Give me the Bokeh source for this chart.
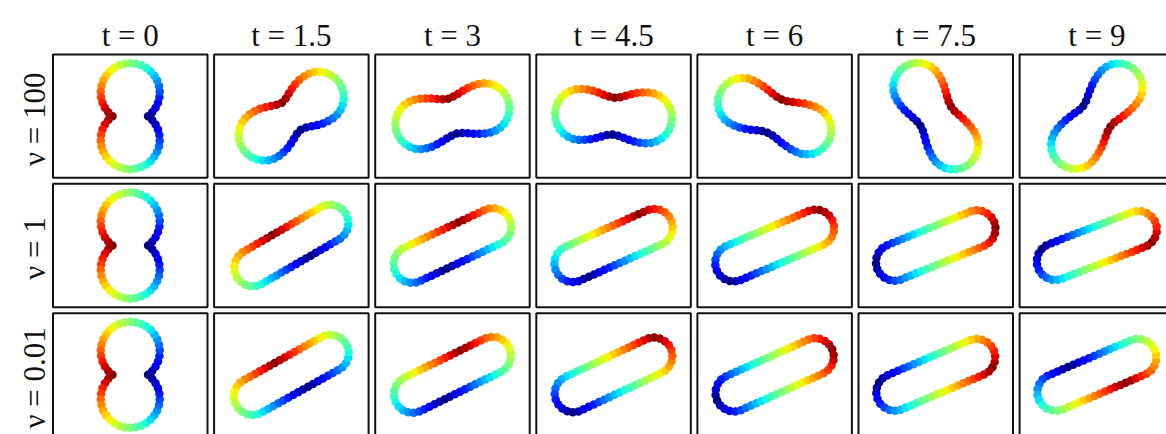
import numpy as np
from bokeh.plotting import figure
from bokeh.models import Range1d, ColumnDataSource
from bokeh.embed import file_html
from bokeh.resources import INLINE
from bokeh.core.properties import value

# ---------------------------------------------------------------- data
times = [0, 1.5, 3, 4.5, 6, 7.5, 9]
col_labels = ["t = 0", "t = 1.5", "t = 3", "t = 4.5", "t = 6", "t = 7.5", "t = 9"]
row_labels = ["ν = 100", "ν = 1", "ν = 0.01"]

# orientation of the long axis (degrees, counter-clockwise from the flow)
angle_nu100 = [90, 35, 14, -3, -23, -58, -127]
angle_nu1 = [90, 30, 25, 24, 23, 22, 21]
angle_nu001 = [90, 29, 26, 25, 24, 23, 23]

# distance of each lobe centre from the middle of the vesicle
lobe_offset_nu100 = [23.5, 33, 33, 33, 35, 34, 36]
lobe_offset_nu1 = [23.5, 44.5, 44.5, 44.5, 44.5, 44.5, 44.5]
lobe_offset_nu001 = [23.5, 44.5, 44.5, 44.5, 44.5, 44.5, 44.5]

# lobe radius
lobe_radius_nu100 = [29.5, 25.5, 25, 25.5, 24.5, 24.5, 24]
lobe_radius_nu1 = [29.5, 18.5, 18.5, 18.5, 18.5, 18.5, 18.5]
lobe_radius_nu001 = [29.5, 18.5, 18.5, 18.5, 18.5, 18.5, 18.5]

# half-width at the neck and rounding of the neck
neck_nu100 = [17.8, 16.5, 18, 18.5, 18, 18, 17]
neck_nu1 = [17.8, 18.5, 18.5, 18.5, 18.5, 18.5, 18.5]
neck_nu001 = [17.8, 18.5, 18.5, 18.5, 18.5, 18.5, 18.5]
neck_round_nu100 = [0, 11, 15, 15, 15, 15, 12]
neck_round_nu1 = [0, 0, 0, 0, 0, 0, 0]
neck_round_nu001 = [0, 0, 0, 0, 0, 0, 0]

# position of the marker maximum along the membrane (fraction of perimeter)
phase_nu100 = [0, 0, 0, 0, 0, 0, 0]
phase_nu1 = [0, 0.04, -0.05, -0.12, -0.19, -0.27, -0.32]
phase_nu001 = [0, 0.03, -0.06, -0.18, -0.25, -0.31, -0.42]

rows = [
    (angle_nu100, lobe_offset_nu100, lobe_radius_nu100, neck_nu100, neck_round_nu100, phase_nu100),
    (angle_nu1, lobe_offset_nu1, lobe_radius_nu1, neck_nu1, neck_round_nu1, phase_nu1),
    (angle_nu001, lobe_offset_nu001, lobe_radius_nu001, neck_nu001, neck_round_nu001, phase_nu001),
]

N_MARKERS = 52

# ---------------------------------------------------------------- layout
W, H = 1166, 434
PANEL_W, PANEL_H = 154.5, 123.3
COL_X0, COL_STEP = 52.5, 161.1
ROW_Y0, ROW_STEP = 54.0, 129.35


def jet(v):
    v = np.clip(v, 0, 1)
    r = np.interp(v, [0, 0.35, 0.66, 0.89, 1], [0, 0, 1, 1, 0.5])
    g = np.interp(v, [0, 0.125, 0.375, 0.64, 0.91, 1], [0, 0, 1, 1, 0, 0])
    b = np.interp(v, [0, 0.11, 0.34, 0.65, 1], [0.5, 1, 1, 0, 0])
    return ["#%02x%02x%02x" % (int(round(255 * a)), int(round(255 * c)), int(round(255 * d)))
            for a, c, d in zip(r, g, b)]


def outline(D, R, neck, eps, n=6000):
    """Closed outline in the body frame, starting at the top of the neck,
    running counter-clockwise."""
    kappa = np.sqrt(max(R ** 2 - neck ** 2, 0)) / (np.sqrt(D ** 2 + eps ** 2) - eps)
    L = D + R
    u = np.linspace(0, 2 * np.pi, n, endpoint=False)
    x = -L * np.sin(u)
    a = np.abs(x)
    q = np.where(a > D, a - D,
                 kappa * (np.sqrt(a ** 2 + eps ** 2) - np.sqrt(D ** 2 + eps ** 2)))
    w = np.sqrt(np.clip(R ** 2 - q ** 2, 0, None))
    y = np.sign(np.cos(u)) * w
    return x, y


def markers(D, R, neck, eps, phase, n_markers):
    x, y = outline(D, R, neck, eps)
    xc = np.append(x, x[0])
    yc = np.append(y, y[0])
    seg = np.hypot(np.diff(xc), np.diff(yc))
    s = np.concatenate([[0], np.cumsum(seg)])
    P = s[-1]
    frac = (phase + np.arange(n_markers) / n_markers) % 1.0
    mx = np.interp(frac * P, s, xc)
    my = np.interp(frac * P, s, yc)
    d = np.abs(((frac - phase) + 0.5) % 1.0 - 0.5)   # distance from the maximum
    level = 1 - 2 * d
    return mx, my, level


p = figure(width=W, height=H, output_backend="svg", toolbar_location=None,
           x_range=Range1d(0, W), y_range=Range1d(H, 0), min_border=0,
           background_fill_color="white", border_fill_color="white")
p.axis.visible = False
p.grid.visible = False
p.outline_line_color = None

# panel frames
fx, fy = [], []
for j in range(len(row_labels)):
    for i in range(len(times)):
        fx.append(COL_X0 + i * COL_STEP + PANEL_W / 2)
        fy.append(ROW_Y0 + j * ROW_STEP + PANEL_H / 2)
p.rect(x=fx, y=fy, width=PANEL_W, height=PANEL_H, fill_color=None,
       line_color="#111111", line_width=2)

# membrane markers
xs, ys, cols = [], [], []
for j, (ang, off, rad, nk, nr, ph) in enumerate(rows):
    for i in range(len(times)):
        mx, my, lev = markers(off[i], rad[i], nk[i], nr[i], ph[i], N_MARKERS)
        th = np.deg2rad(ang[i])
        cx = COL_X0 + i * COL_STEP + PANEL_W / 2
        cy = ROW_Y0 + j * ROW_STEP + PANEL_H / 2
        xs.extend(cx + mx * np.cos(th) - my * np.sin(th))
        ys.extend(cy - (mx * np.sin(th) + my * np.cos(th)))
        cols.extend(jet(lev))
src = ColumnDataSource(dict(x=xs, y=ys, c=cols))
p.scatter(x="x", y="y", source=src, size=8.5, fill_color="c", line_color=None)

# column titles
p.text(x=[COL_X0 + i * COL_STEP + PANEL_W / 2 for i in range(len(times))],
       y=[35] * len(times), text=col_labels,
       text_font=value("Liberation Serif"), text_font_size="31px",
       text_align="center", text_baseline="alphabetic", text_color="#111111")

# row titles
p.text(x=[34] * len(row_labels),
       y=[ROW_Y0 + j * ROW_STEP + PANEL_H / 2 + 3 for j in range(len(row_labels))],
       text=row_labels, angle=np.pi / 2,
       text_font=value("Liberation Serif"), text_font_size="31px",
       text_align="center", text_baseline="alphabetic", text_color="#111111")

open("out.html", "w").write(file_html(p, INLINE))
